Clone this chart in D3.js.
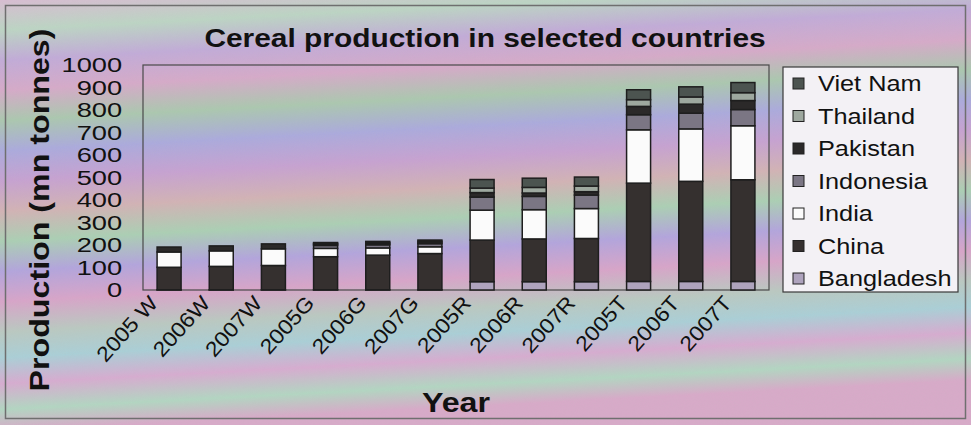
<!DOCTYPE html>
<html>
<head>
<meta charset="utf-8">
<script src="https://cdn.jsdelivr.net/npm/d3@7/dist/d3.min.js"></script>
<style>
  body { margin: 0; background: #fff; }
  svg text { font-family: Arial, "Liberation Sans", sans-serif; fill: #111; }
</style>
</head>
<body>
<div id="chart"></div>
<script>
// values (mn tonnes)
var categories = ["2005 W","2006W","2007W","2005G","2006G","2007G","2005R","2006R","2007R","2005T","2006T","2007T"];
var countries = ["Bangladesh","China","India","Indonesia","Pakistan","Thailand","Viet Nam"];
var bangladesh = [1,1,1,1,1,1,37,37,37,38,38,38];
var china      = [100,104,108,147,154,161,185,190,192,437,445,452];
var india      = [68,69,74,37,32,30,133,130,133,237,233,240];
var indonesia  = [0,0,0,13,14,14,58,59,60,67,70,72];
var pakistan   = [22,22,22,5,5,5,20,15,15,37,40,40];
var thailand   = [0,0,0,4,5,6,20,25,25,30,32,35];
var vietnam    = [0,0,0,4,5,5,38,41,40,44,45,45];
var yTicks = [0,100,200,300,400,500,600,700,800,900,1000];

var seriesValues = [bangladesh, china, india, indonesia, pakistan, thailand, vietnam];
var fills = ["#aea3bd","#35302f","#fbfbfb","#7b7684","#2b2929","#9ea89f","#4c5450"];

var W = 971, H = 425;
var plot = {left: 143, right: 769, top: 65, bottom: 290};

var svg = d3.select("#chart").append("svg")
    .attr("width", W)
    .attr("height", H);

// pastel "rainbow" scan background
var defs = svg.append("defs");
var bg = defs.append("linearGradient")
    .attr("id", "bg")
    .attr("x1", "0").attr("y1", "0").attr("x2", "0.12").attr("y2", "1");
var bgStops = [
  [0, "#d9bdd3"], [0.07, "#bcd6c4"], [0.14, "#c2aad9"], [0.21, "#d7a9c9"],
  [0.28, "#aac8ae"], [0.35, "#aaa9de"], [0.42, "#c7a0d2"], [0.49, "#d3b2b4"],
  [0.56, "#aad0b3"], [0.63, "#b2a3de"], [0.70, "#d9a3c9"], [0.77, "#bac9c1"],
  [0.83, "#a9d0d8"], [0.89, "#d8abd1"], [0.95, "#b2d7c2"], [1, "#d9a9c9"]
];
bgStops.forEach(function(s) {
  bg.append("stop").attr("offset", s[0]).attr("stop-color", s[1]);
});

var noise = defs.append("filter").attr("id", "grain")
    .attr("x", 0).attr("y", 0).attr("width", 1).attr("height", 1);
noise.append("feTurbulence").attr("type", "fractalNoise")
    .attr("baseFrequency", "0.9").attr("numOctaves", 2).attr("result", "n");
noise.append("feColorMatrix").attr("in", "n").attr("type", "matrix")
    .attr("values", "0 0 0 0 0.5  0 0 0 0 0.5  0 0 0 0 0.5  0 0 0 0.35 0");

svg.append("rect")
    .attr("width", W).attr("height", H)
    .attr("fill", "url(#bg)");
svg.append("rect")
    .attr("width", W).attr("height", H)
    .attr("filter", "url(#grain)")
    .attr("opacity", 0.5);

// outer frame
svg.append("rect")
    .attr("x", 5.5).attr("y", 5.5)
    .attr("width", 960).attr("height", 413)
    .attr("fill", "none")
    .attr("stroke", "#6f6f6f")
    .attr("stroke-width", 1.5);

var x = d3.scaleBand()
    .domain(categories)
    .range([plot.left, plot.right])
    .paddingInner(0.54)
    .paddingOuter(0.27);

var y = d3.scaleLinear()
    .domain([0, 1000])
    .range([plot.bottom, plot.top]);

// table for the stack
var table = categories.map(function(c, i) {
  var row = {cat: c};
  countries.forEach(function(k, j) { row[k] = seriesValues[j][i]; });
  return row;
});
var stacked = d3.stack().keys(countries)(table);

// plot frame
svg.append("rect")
    .attr("x", plot.left).attr("y", plot.top)
    .attr("width", plot.right - plot.left)
    .attr("height", plot.bottom - plot.top)
    .attr("fill", "none")
    .attr("stroke", "#4a4a4a")
    .attr("stroke-width", 1.2);

var layers = svg.append("g").selectAll("g")
  .data(stacked)
  .enter().append("g")
    .attr("fill", function(d, i) { return fills[i]; });

layers.selectAll("rect")
  .data(function(d) { return d.filter(function(p) { return p[1] - p[0] > 0; }); })
  .enter().append("rect")
    .attr("x", function(d) { return x(d.data.cat); })
    .attr("y", function(d) { return y(d[1]); })
    .attr("width", x.bandwidth())
    .attr("height", function(d) { return y(d[0]) - y(d[1]); })
    .attr("stroke", "#1e1e1e")
    .attr("stroke-width", 1.5);

// y axis
var yAxis = svg.append("g")
    .attr("transform", "translate(" + plot.left + ",0)")
    .call(d3.axisLeft(y).tickValues(yTicks).tickSize(0).tickPadding(16).tickFormat(d3.format("d")));
yAxis.select(".domain").remove();
yAxis.selectAll("text")
    .attr("transform", "scale(1.3,1)")
    .style("font-size", "21px")
    .style("font-family", "Arial, 'Liberation Sans', sans-serif")
    .attr("fill", "#151515");

// x axis labels
var xAxis = svg.append("g")
    .attr("transform", "translate(0," + plot.bottom + ")")
    .call(d3.axisBottom(x).tickSize(0).tickFormat(function(d) { return d; }));
xAxis.select(".domain").remove();
xAxis.selectAll("text")
    .attr("text-anchor", "end")
    .attr("dy", null)
    .attr("y", 0)
    .attr("x", 0)
    .attr("transform", "translate(-10,14) rotate(-48) scale(1.1,1)")
    .style("font-size", "21px")
    .style("font-family", "Arial, 'Liberation Sans', sans-serif")
    .attr("fill", "#151515");

// titles
svg.append("text")
    .attr("transform", "translate(485,47) scale(1.15,1)")
    .attr("text-anchor", "middle")
    .style("font-size", "26px")
    .style("font-weight", "bold")
    .text("Cereal production in selected countries");

svg.append("text")
    .attr("transform", "translate(49,210) rotate(-90) scale(1.15,1)")
    .attr("text-anchor", "middle")
    .style("font-size", "28px")
    .style("font-weight", "bold")
    .text("Production (mn tonnes)");

svg.append("text")
    .attr("transform", "translate(456,412) scale(1.15,1)")
    .attr("text-anchor", "middle")
    .style("font-size", "28px")
    .style("font-weight", "bold")
    .text("Year");

// legend, top entry is the last series
var legend = svg.append("g").attr("transform", "translate(783,67)");
legend.append("rect")
    .attr("width", 175).attr("height", 225)
    .attr("fill", "#f3f1f5")
    .attr("stroke", "#3a3a3a")
    .attr("stroke-width", 1.2);

var legendOrder = countries.slice().reverse();
var items = legend.selectAll(".item")
  .data(legendOrder)
  .enter().append("g")
    .attr("class", "item")
    .attr("transform", function(d, i) { return "translate(0," + (16 + i * 32.5) + ")"; });

items.append("rect")
    .attr("x", 10).attr("y", -5)
    .attr("width", 11).attr("height", 11)
    .attr("fill", function(d) { return fills[countries.indexOf(d)]; })
    .attr("stroke", "#222")
    .attr("stroke-width", 1);

items.append("text")
    .attr("transform", "translate(35,8) scale(1.15,1)")
    .style("font-size", "22px")
    .text(function(d) { return d; });
</script>
</body>
</html>
